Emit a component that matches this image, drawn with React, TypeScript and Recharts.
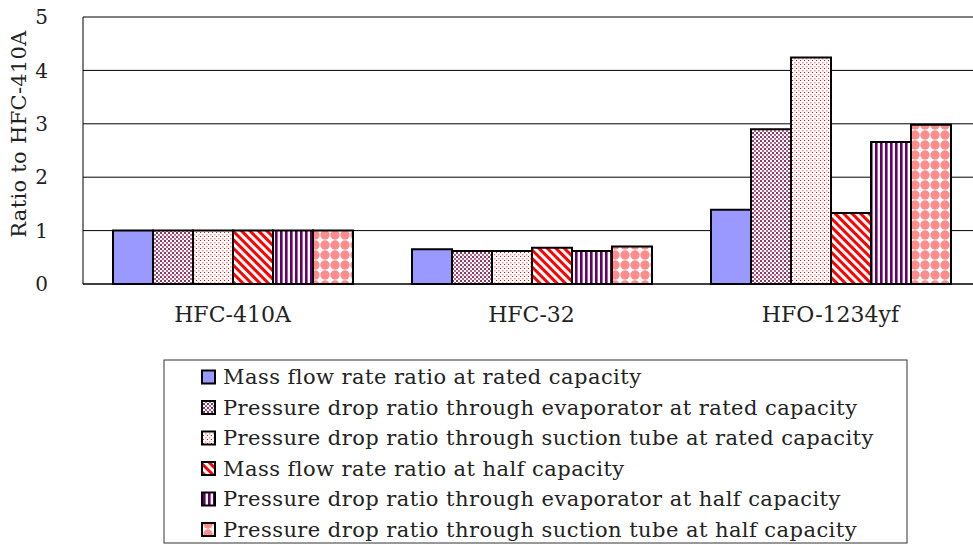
import React from 'react';
import { BarChart, Bar, XAxis, YAxis, CartesianGrid, Label } from 'recharts';

const categories = ['HFC-410A', 'HFC-32', 'HFO-1234yf'];
const massFlowRated = [1.0, 0.65, 1.39];
const evapDropRated = [1.0, 0.62, 2.9];
const suctionDropRated = [1.0, 0.62, 4.24];
const massFlowHalf = [1.0, 0.68, 1.33];
const evapDropHalf = [1.0, 0.62, 2.66];
const suctionDropHalf = [1.0, 0.7, 2.98];
const yTicks = [0, 1, 2, 3, 4, 5];

const seriesNames = [
  'Mass flow rate ratio at rated capacity',
  'Pressure drop ratio through evaporator at rated capacity',
  'Pressure drop ratio through suction tube at rated capacity',
  'Mass flow rate ratio at half capacity',
  'Pressure drop ratio through evaporator at half capacity',
  'Pressure drop ratio through suction tube at half capacity',
];
const seriesKeys = ['s1', 's2', 's3', 's4', 's5', 's6'];
const seriesValues = [massFlowRated, evapDropRated, suctionDropRated, massFlowHalf, evapDropHalf, suctionDropHalf];

const data = categories.map((c, i) => {
  const row: Record<string, string | number> = { name: c };
  seriesKeys.forEach((k, j) => {
    row[k] = seriesValues[j][i];
  });
  return row;
});

const FONT = 'DejaVu Serif';

function Patterns({ prefix }: { prefix: string }) {
  return (
    <defs>
      <pattern id={`${prefix}p2`} patternUnits="userSpaceOnUse" width="4" height="4">
        <rect x="0" y="0" width="4" height="4" fill="#ffffff" />
        <rect x="0" y="0" width="2" height="2" fill="#993366" />
        <rect x="2" y="2" width="2" height="2" fill="#b0668a" />
      </pattern>
      <pattern id={`${prefix}p3`} patternUnits="userSpaceOnUse" width="4" height="4">
        <rect x="0" y="0" width="4" height="4" fill="#ffffff" />
        <rect x="0" y="0" width="1" height="1" fill="#ff0000" />
        <rect x="2" y="2" width="1.5" height="1.5" fill="#ff9999" />
      </pattern>
      <pattern id={`${prefix}p4`} patternUnits="userSpaceOnUse" width="6" height="6" patternTransform="rotate(-45)">
        <rect x="0" y="0" width="6" height="6" fill="#ffffff" />
        <rect x="0" y="0" width="3" height="6" fill="#ff0000" />
      </pattern>
      <pattern id={`${prefix}p5`} patternUnits="userSpaceOnUse" width="5" height="5">
        <rect x="0" y="0" width="5" height="5" fill="#ffffff" />
        <rect x="0" y="0" width="2.6" height="5" fill="#660066" />
      </pattern>
      <pattern id={`${prefix}p6`} patternUnits="userSpaceOnUse" width="10" height="10">
        <rect x="0" y="0" width="10" height="10" fill="#ffffff" />
        <circle cx="5" cy="5" r="4.7" fill="#ff8c8c" />
      </pattern>
    </defs>
  );
}

const fills = (prefix: string) => [
  '#9999ff',
  `url(#${prefix}p2)`,
  `url(#${prefix}p3)`,
  `url(#${prefix}p4)`,
  `url(#${prefix}p5)`,
  `url(#${prefix}p6)`,
];

function LegendBox() {
  const f = fills('lg');
  return (
    <svg width={745} height={185} style={{ position: 'absolute', left: 163, top: 359 }}>
      <Patterns prefix="lg" />
      <rect x={1} y={1} width={743} height={183} fill="#ffffff" stroke="#333" strokeWidth={1} />
      {seriesNames.map((n, i) => (
        <g key={n}>
          <rect x={39} y={11.5 + i * 30.5} width={13} height={13} fill={f[i]} stroke="#000" strokeWidth={2} />
          <text x={60} y={25 + i * 30.5} fontFamily={FONT} fontSize={21} letterSpacing={0.45} fill="#222">
            {n}
          </text>
        </g>
      ))}
    </svg>
  );
}

const YLabel = () => (
  <text
    transform="translate(19,134) rotate(-90)"
    textAnchor="middle"
    dominantBaseline="central"
    fontFamily={FONT}
    fontSize={21}
    letterSpacing={0.3}
    fill="#222"
  >
    Ratio to HFC-410A
  </text>
);

export default function App() {
  const f = fills('ch');
  return (
    <div style={{ position: 'absolute', left: 0, top: 0, width: 973, height: 545, overflow: 'hidden', background: '#fff' }}>
      <BarChart
        width={982}
        height={545}
        data={data}
        margin={{ top: 17, right: 2, left: 0, bottom: 221 }}
        barCategoryGap={30}
        barGap={0}
      >
        <Patterns prefix="ch" />
        <CartesianGrid vertical={false} stroke="#000" strokeWidth={1} />
        <XAxis
          dataKey="name"
          height={40}
          tickLine={false}
          tickSize={0}
          tickMargin={22}
          axisLine={{ stroke: '#000', strokeWidth: 1 }}
          tick={{ fill: '#222', fontSize: 22, fontFamily: FONT }}
        />
        <YAxis
          width={83}
          domain={[0, 5]}
          ticks={yTicks}
          interval={0}
          tickLine={false}
          tickSize={0}
          tickMargin={35}
          axisLine={{ stroke: '#000', strokeWidth: 1 }}
          tick={{ fill: '#222', fontSize: 20, fontFamily: FONT }}
        >
          <Label content={<YLabel />} />
        </YAxis>
        {seriesKeys.map((k, i) => (
          <Bar key={k} dataKey={k} name={seriesNames[i]} fill={f[i]} stroke="#000" strokeWidth={2} isAnimationActive={false} />
        ))}
      </BarChart>
      <LegendBox />
    </div>
  );
}
